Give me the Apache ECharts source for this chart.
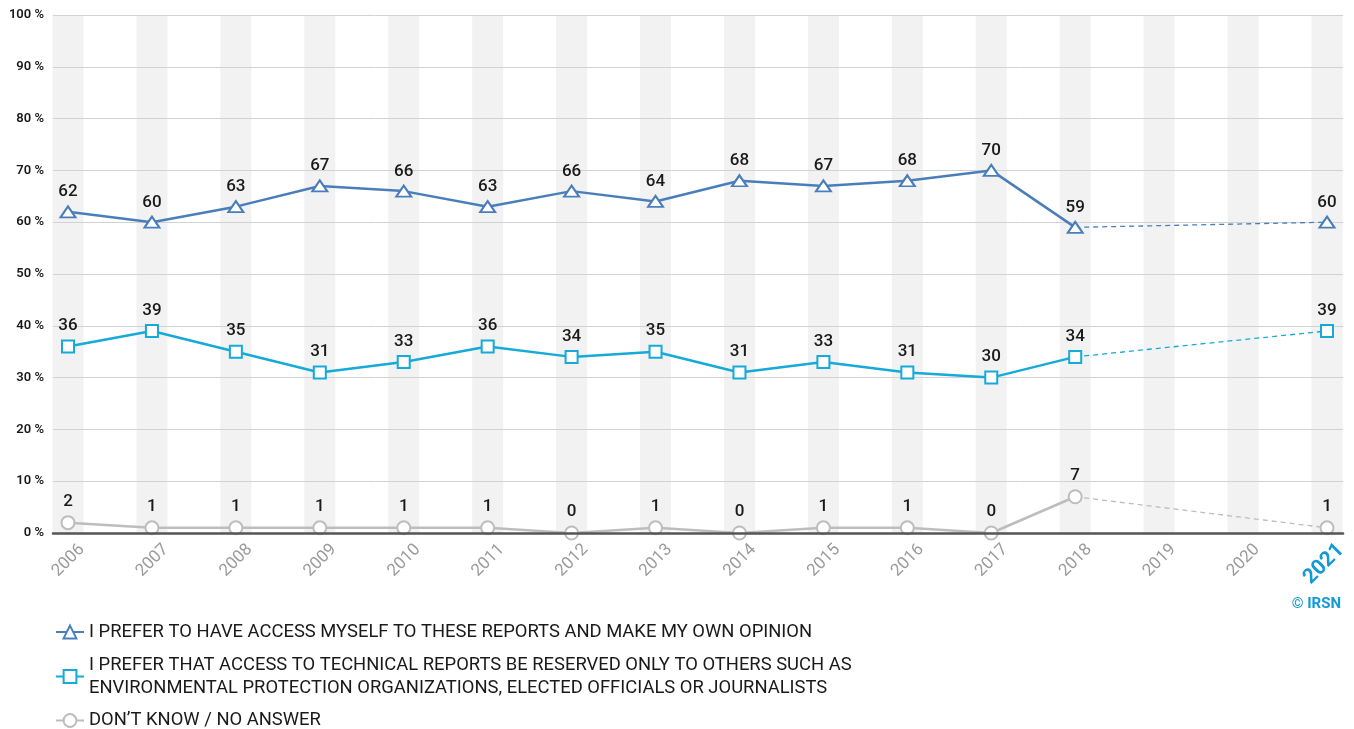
<!DOCTYPE html>
<html>
<head>
<meta charset="utf-8">
<script src="https://cdn.jsdelivr.net/npm/echarts@6/dist/echarts.min.js"></script>
<style>html,body{margin:0;padding:0;background:#fff}#c{width:1354px;height:729px}</style>
</head>
<body>
<div id="c"></div>
<script>
var years = ['2006','2007','2008','2009','2010','2011','2012','2013','2014','2015','2016','2017','2018','2019','2020','2021'];
var ownOpinion = [62,60,63,67,66,63,66,64,68,67,68,70,59,null,null,60];
var reserved = [36,39,35,31,33,36,34,35,31,33,31,30,34,null,null,39];
var dontKnow = [2,1,1,1,1,1,0,1,0,1,1,0,7,null,null,1];
var yTicks = [0,10,20,30,40,50,60,70,80,90,100];
var names = [
  'I PREFER TO HAVE ACCESS MYSELF TO THESE REPORTS AND MAKE MY OWN OPINION',
  'I PREFER THAT ACCESS TO TECHNICAL REPORTS BE RESERVED ONLY TO OTHERS SUCH AS\nENVIRONMENTAL PROTECTION ORGANIZATIONS, ELECTED OFFICIALS OR JOURNALISTS',
  'DON\u2019T KNOW / NO ANSWER'
];
var colors = ['#4a7ebb','#15aad8','#bdbdbd'];
var symbols = ['triangle','rect','circle'];
var symbolSizes = [[15,11],12,13];
var allData = [ownOpinion, reserved, dontKnow];
var lastSolid = 12; // 2018
var lastIdx = years.length - 1;

var FONT = 'Roboto, "Noto Sans", sans-serif';
var chart = echarts.init(document.getElementById('c'));

var series = [{
  type: 'bar', xAxisIndex: 1, yAxisIndex: 1, silent: true, z: 0,
  data: years.map(function(){ return 100; }),
  barWidth: 31, itemStyle: { color: '#f2f2f2' }, legendHoverLink: false,
  tooltip: { show: false }
}];

allData.forEach(function(d, k){
  var solid = d.map(function(v, i){ return i <= lastSolid ? v : null; });
  var dashed = d.map(function(v, i){
    if (i === lastSolid) return { value: v, symbol: 'none', label: { show: false } };
    if (i === lastIdx) return v;
    return null;
  });
  var common = {
    type: 'line', xAxisIndex: 1, yAxisIndex: 1,
    symbol: symbols[k], symbolSize: symbolSizes[k], showAllSymbol: true,
    itemStyle: { color: '#fff', borderColor: colors[k], borderWidth: 2 },
    label: { show: true, position: 'top', distance: 5, color: '#1a1a1a', fontSize: 17, fontWeight: 500, fontFamily: FONT },
    z: 5, animation: false
  };
  series.push(Object.assign({}, common, {
    name: names[k], data: solid,
    lineStyle: { color: colors[k], width: 2.5 }
  }));
  series.push(Object.assign({}, common, {
    name: names[k] + ' (dashed)', data: dashed, connectNulls: true,
    lineStyle: { color: colors[k], width: 1.3, type: [5, 4] }, z: 4
  }));
});

var legendTops = [620.5, 653.5, 709];
var legends = names.map(function(n, k){
  return {
    data: [n], orient: 'vertical', left: 55, top: legendTops[k], padding: 0,
    itemWidth: 28, itemHeight: 16, itemGap: 0, selectedMode: false,
    textStyle: { color: '#1a1a1a', fontSize: 18.4, lineHeight: 23, fontFamily: FONT }
  };
});

chart.setOption({
  animation: false,
  textStyle: { fontFamily: FONT },
  grid: [
    { left: 53, right: 11, top: 15, bottom: 196 },
    { left: 68, right: 27, top: 15, bottom: 196 },
    { left: 82, right: 13, top: 15, bottom: 196 }
  ],
  xAxis: [
    { type: 'value', gridIndex: 0, min: 0, max: 1, axisLabel: { show: false }, axisTick: { show: false }, splitLine: { show: false },
      axisLine: { show: true, lineStyle: { color: '#555', width: 2.5 } }, z: 6 },
    { type: 'category', gridIndex: 1, data: years, boundaryGap: false,
      axisLine: { show: false }, axisTick: { show: false }, axisLabel: { show: false } },
    { type: 'category', gridIndex: 2, data: years, boundaryGap: false,
      axisLine: { show: false }, axisTick: { show: false },
      axisLabel: { rotate: 45, margin: 14, color: '#9b9b9b', fontSize: 17, fontFamily: FONT, interval: 0,
        formatter: function(v){ return v === '2021' ? '{b|' + v + '}' : v; },
        rich: { b: { color: '#129bd8', fontSize: 21, fontWeight: 'bold', fontFamily: FONT } } } }
  ],
  yAxis: [
    { type: 'value', gridIndex: 0, min: 0, max: 100, interval: 10, z: 1,
      axisLine: { show: false }, axisTick: { show: false },
      axisLabel: { formatter: '{value} %', color: '#1a1a1a', fontSize: 13, fontWeight: 600, margin: 9, fontFamily: FONT },
      splitLine: { lineStyle: { color: '#d2d2d2', width: 1 } } },
    { type: 'value', gridIndex: 1, min: 0, max: 100, show: false, splitLine: { show: false } },
    { type: 'value', gridIndex: 2, min: 0, max: 100, show: false, splitLine: { show: false } }
  ],
  legend: legends,
  graphic: [{
    type: 'text', right: 13, top: 597,
    style: { text: '\u00a9 IRSN', fill: '#129bd8', font: 'bold 15px ' + FONT }
  }],
  series: series
});
</script>
</body>
</html>
